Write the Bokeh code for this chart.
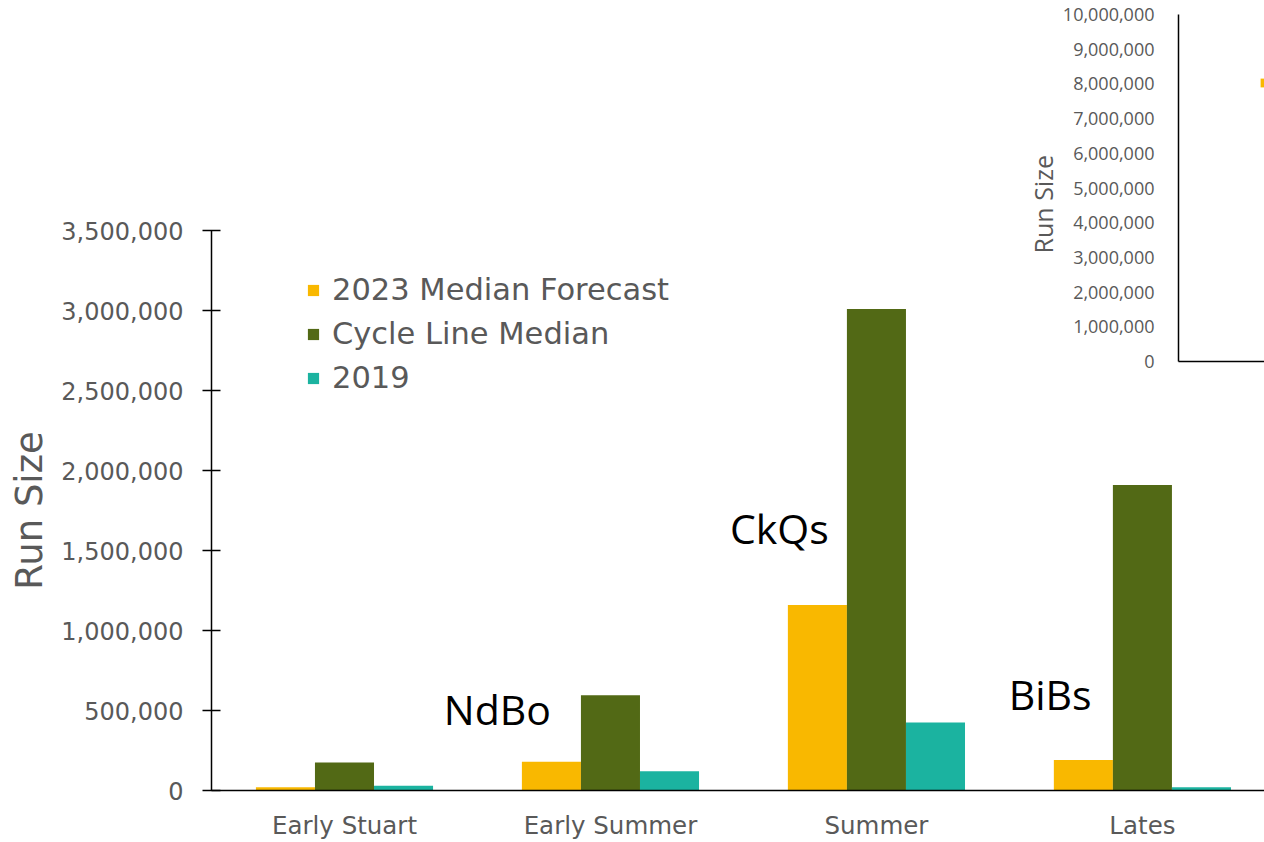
from bokeh.plotting import figure
from bokeh.models import (Range1d, FixedTicker, NumeralTickFormatter, Legend,
                          LegendItem, Label, ColumnDataSource)
from bokeh.transform import dodge
from bokeh.layouts import column
from bokeh.embed import file_html
from bokeh.resources import INLINE

# ---------------- data ----------------
categories = ["Early Stuart", "Early Summer", "Summer", "Lates"]
forecast_2023 = [20000, 180000, 1160000, 190000]
cycle_line_median = [175000, 595000, 3010000, 1910000]
run_2019 = [30000, 120000, 425000, 20000]
series_names = ["2023 Median Forecast", "Cycle Line Median", "2019"]
series_colors = ["#F9B800", "#526915", "#1BB3A0"]
y_ticks = [0, 500000, 1000000, 1500000, 2000000, 2500000, 3000000, 3500000]
inset_ticks = [0, 1000000, 2000000, 3000000, 4000000, 5000000,
               6000000, 7000000, 8000000, 9000000, 10000000]
stock_labels = ["NdBo", "CkQs", "BiBs"]

GRAY = "#595959"
MAIN_FONT = "DejaVu Sans"
LEFT = 211

# ---------------- main chart ----------------
src = ColumnDataSource(dict(
    x=list(range(len(categories))),
    f=forecast_2023, c=cycle_line_median, r=run_2019,
))

p = figure(width=1264, height=842,
           x_range=Range1d(-0.5, 3.459), y_range=Range1d(0, 3500000),
           output_backend="svg", toolbar_location=None,
           min_border_left=LEFT, min_border_right=0,
           min_border_top=230, min_border_bottom=52)
p.background_fill_color = None
p.border_fill_color = None
p.outline_line_color = None
p.xgrid.visible = False
p.ygrid.visible = False

bw = 0.222
cols = ["f", "c", "r"]
offs = [-bw, 0.0, bw]
renderers = []
for col, off, colr in zip(cols, offs, series_colors):
    r = p.vbar(x=dodge("x", off), top=col, width=bw, source=src,
               fill_color=colr, line_color=None)
    renderers.append(r)

# y axis
ya = p.yaxis[0]
ya.ticker = FixedTicker(ticks=y_ticks)
ya.formatter = NumeralTickFormatter(format="0,0")
ya.axis_line_color = "black"
ya.axis_line_width = 1.5
ya.major_tick_line_color = "black"
ya.major_tick_line_width = 1.5
ya.major_tick_in = 9
ya.major_tick_out = 9
ya.minor_tick_line_color = None
ya.major_label_standoff = 19
ya.major_label_text_font = MAIN_FONT
ya.major_label_text_font_size = "24px"
ya.major_label_text_color = GRAY
ya.axis_label = "Run Size"
ya.axis_label_text_font = MAIN_FONT
ya.axis_label_text_font_size = "37px"
ya.axis_label_text_font_style = "normal"
ya.axis_label_text_color = GRAY
ya.axis_label_standoff = 7

# x axis
xa = p.xaxis[0]
xa.ticker = FixedTicker(ticks=list(range(len(categories))))
xa.major_label_overrides = {i: c for i, c in enumerate(categories)}
xa.axis_line_color = "black"
xa.axis_line_width = 1.5
xa.major_tick_in = 0
xa.major_tick_out = 0
xa.minor_tick_line_color = None
xa.major_label_standoff = 20
xa.major_label_text_font = MAIN_FONT
xa.major_label_text_font_size = "24.5px"
xa.major_label_text_color = GRAY

legend = Legend(
    items=[LegendItem(label=n, renderers=[r]) for n, r in zip(series_names, renderers)],
    location=(95, 395), glyph_width=14, glyph_height=14,
    label_text_font=MAIN_FONT, label_text_font_size="30.5px",
    label_text_color=GRAY, label_standoff=12, spacing=9,
    padding=0, margin=0, border_line_color=None,
    background_fill_alpha=0,
)
p.add_layout(legend)

label_pos = [(0.575, 512500), (1.635, 1643750), (2.653, 606250)]
for txt, (lx, ly) in zip(stock_labels, label_pos):
    p.add_layout(Label(x=lx, y=ly, text=txt, text_align="center",
                       text_baseline="alphabetic", text_font="Open Sans",
                       text_font_size="41px", text_color="black"))

# ---------------- inset (partial second chart, cropped at the right) ----------------
inset = figure(width=297, height=378,
               x_range=Range1d(0, 1), y_range=Range1d(0, 10000000),
               output_backend="svg", toolbar_location=None,
               min_border_left=LEFT, min_border_right=0,
               min_border_top=14, min_border_bottom=17,
               margin=(0, 0, 0, 967))
inset.background_fill_color = None
inset.border_fill_color = None
inset.outline_line_color = None
inset.xgrid.visible = False
inset.ygrid.visible = False

iy = inset.yaxis[0]
iy.ticker = FixedTicker(ticks=inset_ticks)
iy.formatter = NumeralTickFormatter(format="0,0")
iy.axis_line_color = "black"
iy.axis_line_width = 1.5
iy.major_tick_in = 0
iy.major_tick_out = 0
iy.minor_tick_line_color = None
iy.major_label_standoff = 24
iy.major_label_text_font = "Open Sans"
iy.major_label_text_font_size = "18px"
iy.major_label_text_color = GRAY
iy.axis_label = "Run Size" + "\u00a0" * 5
iy.axis_label_text_font = "Open Sans"
iy.axis_label_text_font_size = "25px"
iy.axis_label_text_font_style = "normal"
iy.axis_label_text_color = GRAY
iy.axis_label_standoff = 0

ix = inset.xaxis[0]
ix.ticker = FixedTicker(ticks=[])
ix.axis_line_color = "black"
ix.axis_line_width = 1.5
ix.major_tick_in = 0
ix.major_tick_out = 0
ix.minor_tick_line_color = None
ix.major_label_standoff = 0

# the inset's bars lie beyond the cropped (visible) part of that chart
inset_src = ColumnDataSource(dict(x=[2 + i for i in range(len(categories))],
                                  f=forecast_2023))
ir = inset.vbar(x="x", top="f", width=0.3, source=inset_src,
                fill_color=series_colors[0], line_color=None)
inset_legend = Legend(
    items=[LegendItem(label=" ", renderers=[ir])],
    location=(81, 273), glyph_width=11, glyph_height=11, label_height=11,
    label_text_font="Open Sans", label_text_font_size="10px",
    label_text_color=GRAY, label_standoff=0, spacing=0,
    padding=0, margin=0, border_line_color=None, background_fill_alpha=0,
)
inset.add_layout(inset_legend)

p.margin = (-378, 0, 0, 0)

layout = column(inset, p)
open("out.html", "w").write(file_html(layout, INLINE, title="Run Size"))
